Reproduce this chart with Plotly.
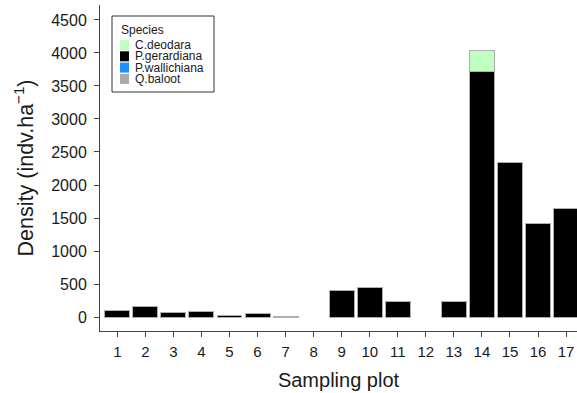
import plotly.graph_objects as go

plots = [str(i) for i in range(1, 18)]
p_gerardiana = [100, 160, 70, 80, 20, 50, 15, 0, 400, 450, 240, 0, 240, 3720, 2340, 1420, 1640]
c_deodara = [0, 0, 0, 0, 0, 0, 0, 0, 0, 0, 0, 0, 0, 320, 0, 0, 0]
p_wallichiana = [0] * 17
q_baloot = [0] * 17

species = ["C.deodara", "P.gerardiana", "P.wallichiana", "Q.baloot"]
colors = {"C.deodara": "#C1FFC1", "P.gerardiana": "#000000",
          "P.wallichiana": "#1E90FF", "Q.baloot": "#A9A9A9"}
yticks = [0, 500, 1000, 1500, 2000, 2500, 3000, 3500, 4000, 4500]

W, H = 577, 393
L, R, T, B = 100, 0, 5, 62
pw, ph = W - L - R, H - T - B

def px(x):
    return (x - L) / pw

def py(y):
    return (H - B - y) / ph

FONT = "Liberation Sans, Arial, sans-serif"
fig = go.Figure()
xs = list(range(1, 18))
for name, vals in [("P.gerardiana", p_gerardiana), ("C.deodara", c_deodara),
                   ("P.wallichiana", p_wallichiana), ("Q.baloot", q_baloot)]:
    shown = [v if v > 0 else None for v in vals]
    fig.add_bar(x=xs, y=shown, name=name, marker_color=colors[name],
                marker_line=dict(color="#b0b0b0", width=1), showlegend=False)

# manual legend
shapes = [dict(type="rect", xref="paper", yref="paper",
               x0=px(112), x1=px(214), y0=py(92), y1=py(16),
               line=dict(color="#333333", width=1), fillcolor="white", layer="above")]
annotations = [dict(text="Species", xref="paper", yref="paper", x=px(119), y=py(30),
                    xanchor="left", yanchor="middle", showarrow=False,
                    font=dict(family=FONT, size=12, color="#1a1a1a"))]
for i, name in enumerate(species):
    cy = 45 + i * 11.3
    shapes.append(dict(type="rect", xref="paper", yref="paper",
                       x0=px(120), x1=px(129), y0=py(cy + 5), y1=py(cy - 5),
                       line=dict(width=0), fillcolor=colors[name], layer="above"))
    annotations.append(dict(text=name, xref="paper", yref="paper", x=px(133), y=py(cy),
                            xanchor="left", yanchor="middle", showarrow=False,
                            font=dict(family=FONT, size=12, color="#1a1a1a")))

fig.update_layout(
    width=W, height=H, margin=dict(l=L, r=R, t=T, b=B, autoexpand=False),
    barmode="stack", bargap=0.11,
    plot_bgcolor="white", paper_bgcolor="white",
    font=dict(family=FONT, size=14, color="#1a1a1a"),
    shapes=shapes, annotations=annotations,
    xaxis=dict(range=[0.383, 17.39], tickmode="array", tickvals=xs, ticktext=plots,
               automargin=False,
               showgrid=False, zeroline=False, showline=True, linecolor="#444444", linewidth=1,
               ticks="outside", ticklen=5, tickcolor="#444444", ticklabelstandoff=2,
               tickfont=dict(size=15, color="#1a1a1a"),
               title=dict(text="Sampling plot", font=dict(size=20), standoff=13)),
    yaxis=dict(range=[-212, 4727], tickmode="array", tickvals=yticks,
               automargin=False,
               showgrid=False, zeroline=False, showline=True, linecolor="#444444", linewidth=1,
               ticks="outside", ticklen=5, tickcolor="#444444", ticklabelstandoff=4,
               tickfont=dict(size=16, color="#1a1a1a"),
               title=dict(text="Density (indv.ha<sup>\u22121</sup>)", font=dict(size=21.5), standoff=11)),
)
fig.write_html("out.html", config={"displayModeBar": False},
               post_script="document.body.style.margin='0';document.body.style.overflow='hidden';")
